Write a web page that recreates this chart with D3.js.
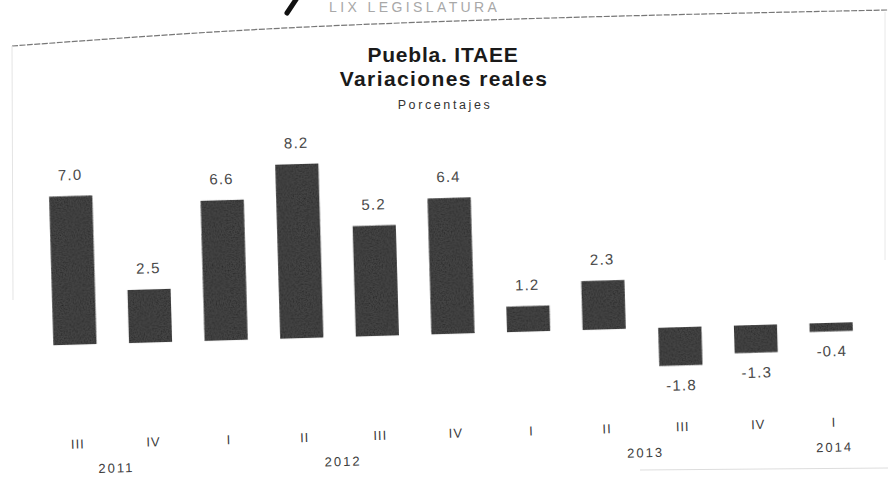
<!doctype html>
<html>
  <head>
    <meta charset="utf-8">
    <title>Puebla. ITAEE</title>
    <script src="https://d3js.org/d3.v7.min.js"></script>
    <style>
      body { margin: 0; background: #fff; }
      text { font-family: "Liberation Sans", Arial, sans-serif; }
    </style>
  </head>
  <body>
    <script>
      // datos
      const quarters = ['III', 'IV', 'I', 'II', 'III', 'IV', 'I', 'II', 'III', 'IV', 'I'];
      const values = [7.0, 2.5, 6.6, 8.2, 5.2, 6.4, 1.2, 2.3, -1.8, -1.3, -0.4];
      const years = ['2011', '2012', '2013', '2014'];
      const yearPos = [0.5, 3.5, 7.5, 10]; // posición en índices de barra

      const width = 888;
      const height = 477;

      const svg = d3.select('body').append('svg')
          .attr('width', width)
          .attr('height', height);

      // textura de escaneo para las barras
      const defs = svg.append('defs');
      const grain = defs.append('filter').attr('id', 'grain')
          .attr('x', 0).attr('y', 0).attr('width', 1).attr('height', 1);
      grain.append('feTurbulence')
          .attr('type', 'fractalNoise')
          .attr('baseFrequency', 0.7)
          .attr('numOctaves', 2)
          .attr('seed', 3)
          .attr('result', 'noise');
      grain.append('feColorMatrix')
          .attr('in', 'noise')
          .attr('type', 'matrix')
          .attr('values', '0 0 0 0 0  0 0 0 0 0  0 0 0 0 0  0 0 0 -1.2 0.75')
          .attr('result', 'dots');
      grain.append('feComposite')
          .attr('in', 'dots').attr('in2', 'SourceGraphic')
          .attr('operator', 'in').attr('result', 'dotsIn');
      grain.append('feMerge').call(m => {
        m.append('feMergeNode').attr('in', 'SourceGraphic');
        m.append('feMergeNode').attr('in', 'dotsIn');
      });

      // membrete
      svg.append('text')
          .attr('x', 329).attr('y', 12)
          .attr('font-size', 14)
          .attr('letter-spacing', 3.4)
          .attr('fill', '#a8a8a8')
          .text('LIX LEGISLATURA');
      svg.append('line')
          .attr('x1', 287).attr('y1', 13).attr('x2', 297).attr('y2', -2)
          .attr('stroke', '#111').attr('stroke-width', 5).attr('stroke-linecap', 'round');

      // marco de la hoja
      svg.append('path')
          .attr('d', d3.line().curve(d3.curveBasis)([[12, 46], [120, 38], [300, 26], [600, 16], [888, 10]]))
          .attr('fill', 'none').attr('stroke', '#777').attr('stroke-width', 1.2)
          .attr('stroke-dasharray', '6 1.5');
      svg.append('line')
          .attr('x1', 12).attr('y1', 46).attr('x2', 13).attr('y2', 300)
          .attr('stroke', '#e4e4e4');
      svg.append('line')
          .attr('x1', 885).attr('y1', 12).attr('x2', 885).attr('y2', 260)
          .attr('stroke', '#e8e8e8');
      svg.append('line')
          .attr('x1', 640).attr('y1', 470).attr('x2', 888).attr('y2', 468)
          .attr('stroke', '#dddddd');

      // títulos
      const title = svg.append('g').attr('text-anchor', 'middle').attr('fill', '#1a1a1a');
      title.append('text')
          .attr('x', 443).attr('y', 62)
          .attr('font-size', 21).attr('font-weight', 'bold').attr('letter-spacing', 0.8)
          .text('Puebla. ITAEE');
      title.append('text')
          .attr('x', 444).attr('y', 86)
          .attr('font-size', 21).attr('font-weight', 'bold').attr('letter-spacing', 1.4)
          .text('Variaciones reales');
      title.append('text')
          .attr('x', 445).attr('y', 109)
          .attr('font-size', 12.5).attr('letter-spacing', 2.6).attr('fill', '#333')
          .text('Porcentajes');

      // gráfica, ligeramente girada como en el escaneo
      const zeroY = 334;
      const chart = svg.append('g')
          .attr('transform', `rotate(-1.65, 443, ${zeroY})`);

      const x = d3.scaleBand()
          .domain(d3.range(values.length))
          .range([37, 869])
          .paddingInner(0.43)
          .paddingOuter(0.215);

      const y = d3.scaleLinear()
          .domain([-2, 9])
          .range([zeroY + 42.5, zeroY - 191]);

      chart.selectAll('rect.bar')
        .data(values)
        .join('rect')
          .attr('class', 'bar')
          .attr('x', (d, i) => x(i))
          .attr('width', x.bandwidth())
          .attr('y', d => y(Math.max(0, d)))
          .attr('height', d => Math.abs(y(d) - y(0)))
          .attr('fill', '#444')
          .attr('filter', 'url(#grain)');

      // etiquetas de valor
      chart.selectAll('text.val')
        .data(values)
        .join('text')
          .attr('class', 'val')
          .attr('x', (d, i) => x(i) + x.bandwidth() / 2)
          .attr('y', d => d >= 0 ? y(d) - 16 : y(d) + 25)
          .attr('text-anchor', 'middle')
          .attr('font-size', 15)
          .attr('letter-spacing', 1.2)
          .attr('fill', '#4a4a4a')
          .text(d => d.toFixed(1));

      // trimestres
      chart.selectAll('text.q')
        .data(quarters)
        .join('text')
          .attr('class', 'q')
          .attr('x', (d, i) => x(i) + x.bandwidth() / 2)
          .attr('y', zeroY + 104)
          .attr('text-anchor', 'middle')
          .attr('font-size', 13)
          .attr('letter-spacing', 1)
          .attr('fill', '#3c3c3c')
          .text(d => d);

      // años
      chart.selectAll('text.yr')
        .data(years)
        .join('text')
          .attr('class', 'yr')
          .attr('x', (d, i) => x(0) + x.bandwidth() / 2 + yearPos[i] * x.step())
          .attr('y', zeroY + 129)
          .attr('text-anchor', 'middle')
          .attr('font-size', 13)
          .attr('letter-spacing', 2)
          .attr('fill', '#3c3c3c')
          .text(d => d);
    </script>
  </body>
</html>
